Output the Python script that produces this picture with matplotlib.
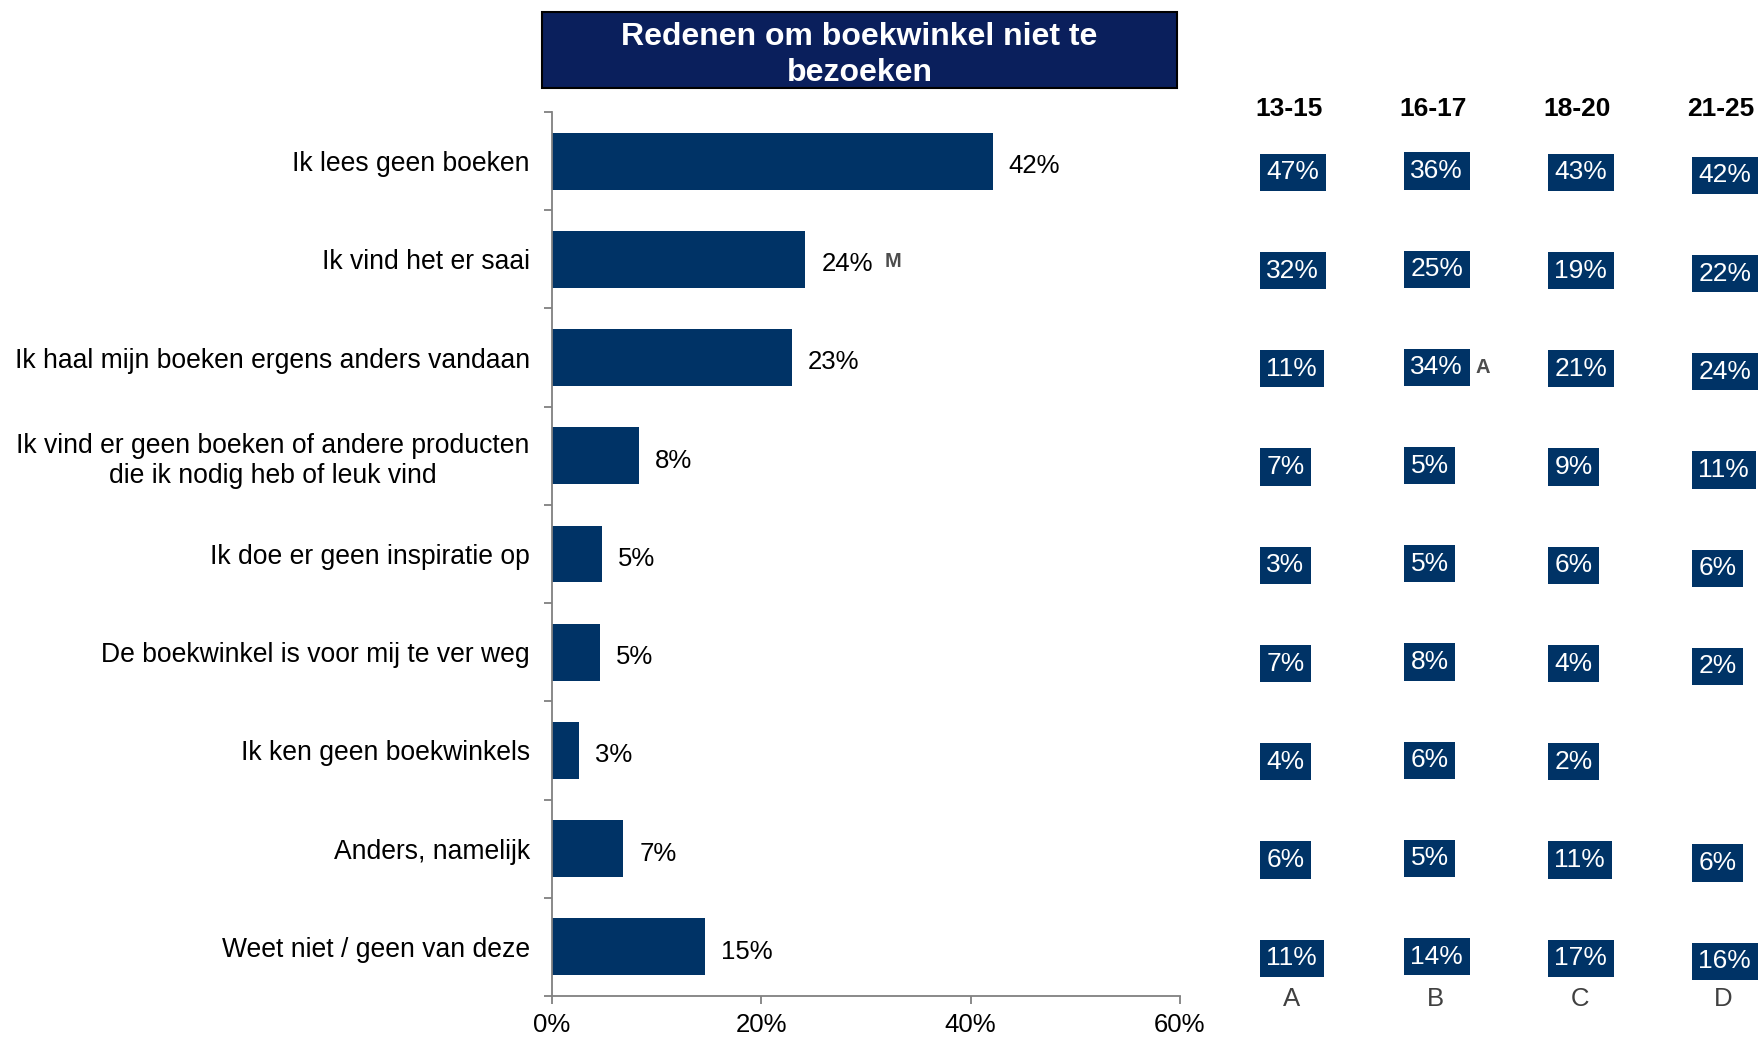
import matplotlib.pyplot as plt
from matplotlib.patches import Rectangle
from matplotlib.ticker import FixedLocator, PercentFormatter

plt.rcParams['font.family'] = ['Liberation Sans', 'DejaVu Sans']

# data
categories = [
    "Ik lees geen boeken",
    "Ik vind het er saai",
    "Ik haal mijn boeken ergens anders vandaan",
    "Ik vind er geen boeken of andere producten\ndie ik nodig heb of leuk vind",
    "Ik doe er geen inspiratie op",
    "De boekwinkel is voor mij te ver weg",
    "Ik ken geen boekwinkels",
    "Anders, namelijk",
    "Weet niet / geen van deze",
]
totals = [42.1, 24.2, 22.9, 8.3, 4.8, 4.6, 2.6, 6.8, 14.6]
total_marks = ["", "M", "", "", "", "", "", "", ""]

groups = ["13-15", "16-17", "18-20", "21-25"]
group_letters = ["A", "B", "C", "D"]
age_13_15 = [47, 32, 11, 7, 3, 7, 4, 6, 11]
age_16_17 = [36, 25, 34, 5, 5, 8, 6, 5, 14]
age_18_20 = [43, 19, 21, 9, 6, 4, 2, 11, 17]
age_21_25 = [42, 22, 24, 11, 6, 2, None, 6, 16]
marks_16_17 = ["", "", "A", "", "", "", "", "", ""]

group_values = [age_13_15, age_16_17, age_18_20, age_21_25]
group_marks = [[""] * 9, marks_16_17, [""] * 9, [""] * 9]

# style
BAR = "#003366"
TITLE_BG = "#0a1f5c"
AXIS = "#808080"
MARK = "#4d4d4d"
FS = 18.5

W, H = 1762, 1040
fig = plt.figure(figsize=(W / 100, H / 100), dpi=100)

ax = fig.add_axes([552 / W, 44 / H, 628 / W, 884 / H])
y = list(range(len(categories)))
ax.barh(y, totals, height=0.58, color=BAR)
ax.set_xlim(0, 60)
ax.set_ylim(len(categories) - 0.5, -0.5)

ax.xaxis.set_major_locator(FixedLocator([0, 20, 40, 60]))
ax.xaxis.set_major_formatter(PercentFormatter(decimals=0))
ax.set_yticks([i - 0.5 for i in range(len(categories) + 1)])
ax.set_yticklabels([])
ax.set_yticks(y, minor=True)
ax.set_yticklabels(categories, minor=True, fontsize=19.1)
for lbl in ax.get_yticklabels(minor=True):
    lbl.set_multialignment("center")
ax.tick_params(axis="y", which="minor", length=0, pad=16)
ax.tick_params(axis="y", which="major", length=6, width=1.3, color=AXIS)
ax.tick_params(axis="x", length=6, width=1.3, color=AXIS, labelsize=FS, pad=6)
for s in ["top", "right"]:
    ax.spines[s].set_visible(False)
for s in ["left", "bottom"]:
    ax.spines[s].set_color(AXIS)
    ax.spines[s].set_linewidth(1.3)

for i, (v, m) in enumerate(zip(totals, total_marks)):
    ax.annotate(f"{v:.0f}%", xy=(v, i), xytext=(11.5, -3.5), textcoords="offset points",
                va="center", ha="left", fontsize=FS)
    if m:
        ax.annotate(m, xy=(v, i), xytext=(57, -1.5), textcoords="offset points",
                    va="center", ha="left", fontsize=14.5, fontweight="bold", color=MARK)

# title box
fig.add_artist(Rectangle((542 / W, 1 - 88 / H), 635 / W, 76 / H, transform=fig.transFigure,
                         facecolor=TITLE_BG, edgecolor="black", linewidth=1.5))
fig.text(859.5 / W, 1 - 55 / H, "Redenen om boekwinkel niet te\nbezoeken", ha="center", va="center",
         color="white", fontsize=23, fontweight="bold", linespacing=1.3)

# table per age group
ax2 = fig.add_axes([1260 / W, 44 / H, (W - 1260) / W, 884 / H], sharey=ax)
ax2.set_xlim(0, (W - 1260) / 144)
ax2.axis("off")
row_shift = [0.115, 0.1, 0.115, 0.145]
for j, (vals, marks) in enumerate(zip(group_values, group_marks)):
    ax2.text(j + 0.2, -0.53, groups[j], ha="center", va="center", fontsize=19,
             fontweight="bold", clip_on=False)
    ax2.text(j + 0.22, len(categories) - 0.47, group_letters[j], ha="center", va="center",
             fontsize=FS, color="#404040", clip_on=False)
    for i, (v, m) in enumerate(zip(vals, marks)):
        if v is None:
            continue
        t = ax2.text(j + 0.045, i + row_shift[j], f"{v}%", ha="left", va="center", fontsize=19,
                     color="white", clip_on=False,
                     bbox=dict(boxstyle="square,pad=0.25", facecolor=BAR, edgecolor="none"))
        if m:
            ax2.annotate(m, xy=(1, 0.5), xycoords=t, xytext=(8.5, 0), textcoords="offset points",
                         ha="left", va="center", fontsize=14.5, fontweight="bold", color=MARK)

fig.savefig("out.png", dpi=100)
